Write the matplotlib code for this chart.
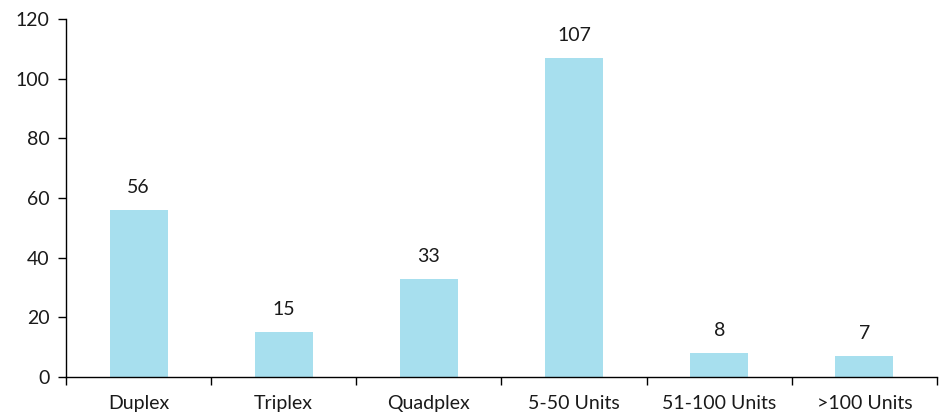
import matplotlib
matplotlib.use("Agg")
import matplotlib.pyplot as plt
import numpy as np

categories = ["Duplex", "Triplex", "Quadplex", "5-50 Units", "51-100 Units", ">100 Units"]
values = [56, 15, 33, 107, 8, 7]
y_ticks = [0, 20, 40, 60, 80, 100, 120]

plt.rcParams['font.family'] = ['Lato', 'DejaVu Sans']

fig = plt.figure(figsize=(9.47, 4.17), dpi=100)
ax = fig.add_axes([0.0697, 0.0959, 0.9197, 0.8585])

x = np.arange(len(categories))
ax.bar(x, values, width=0.4, color="#a7dfee", zorder=2)

for xi, v in zip(x, values):
    ax.annotate(str(v), (xi, v), xytext=(0, 10), textcoords="offset points",
                ha="center", va="bottom", fontsize=14, color="#1a1a1a")

ax.set_xlim(-0.5, len(categories) - 0.5)
ax.set_ylim(0, 120)
ax.set_yticks(y_ticks)
ax.set_yticklabels([str(t) for t in y_ticks])

ax.set_xticks(x)
ax.set_xticklabels(categories)
ax.set_xticks(np.arange(len(categories) + 1) - 0.5, minor=True)
ax.tick_params(axis="x", which="major", length=0, pad=13, labelsize=14, labelcolor="#1a1a1a")
ax.tick_params(axis="x", which="minor", length=6, width=1, direction="out", color="black")
ax.tick_params(axis="y", length=6, width=1, direction="out", labelsize=14, pad=6,
               color="black", labelcolor="#1a1a1a")

for s in ["top", "right"]:
    ax.spines[s].set_visible(False)
for s in ["left", "bottom"]:
    ax.spines[s].set_linewidth(1)
    ax.spines[s].set_color("black")

fig.savefig("out.png", dpi=100)
